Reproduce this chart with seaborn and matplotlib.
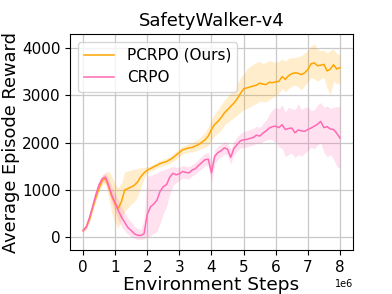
import numpy as np
import pandas as pd
import matplotlib
matplotlib.use("Agg")
import matplotlib.pyplot as plt
import seaborn as sns

# Environment steps (in millions)
steps_m = [round(0.1 * i, 1) for i in range(81)]

pcrpo_mean = [140, 214, 370, 620, 840, 1040, 1200, 1240, 1060, 860,
              700, 610, 760, 1000, 1030, 1060, 1100, 1170, 1280, 1360,
              1420, 1450, 1490, 1520, 1560, 1580, 1600, 1640, 1680, 1740,
              1790, 1850, 1870, 1890, 1900, 1930, 1960, 2010, 2060, 2140,
              2280, 2390, 2450, 2530, 2630, 2700, 2770, 2840, 2930, 3040,
              3140, 3160, 3180, 3200, 3220, 3260, 3240, 3230, 3280, 3270,
              3290, 3300, 3400, 3340, 3420, 3460, 3480, 3470, 3440, 3480,
              3550, 3670, 3690, 3630, 3640, 3660, 3520, 3560, 3650, 3560,
              3590]
pcrpo_low = [100, 170, 320, 560, 770, 960, 1120, 1130, 850, 500,
             300, 190, 400, 560, 620, 700, 760, 860, 1050, 1250,
             1360, 1390, 1430, 1460, 1490, 1510, 1530, 1570, 1600, 1650,
             1700, 1760, 1780, 1800, 1800, 1830, 1850, 1880, 1900, 1950,
             2050, 2150, 2200, 2270, 2370, 2430, 2480, 2530, 2580, 2640,
             2700, 2720, 2760, 2800, 2830, 2880, 2870, 2860, 2920, 2950,
             3000, 3050, 3150, 3080, 3150, 3200, 3220, 3180, 3120, 3200,
             3300, 3380, 3350, 3300, 3350, 3380, 3150, 3020, 3300, 3250,
             3270]
pcrpo_high = [180, 260, 420, 680, 910, 1120, 1300, 1370, 1400, 1280,
              1120, 1050, 1150, 1380, 1400, 1420, 1440, 1450, 1470, 1480,
              1490, 1510, 1550, 1580, 1620, 1650, 1670, 1710, 1760, 1820,
              1870, 1930, 1950, 1980, 2000, 2040, 2080, 2150, 2220, 2330,
              2500, 2620, 2700, 2800, 2900, 2980, 3050, 3130, 3250, 3370,
              3450, 3560, 3620, 3660, 3700, 3720, 3680, 3700, 3740, 3720,
              3700, 3720, 3780, 3720, 3790, 3800, 3800, 3820, 3850, 3900,
              3950, 4050, 4100, 3980, 3950, 3960, 3900, 3950, 3980, 3880,
              3870]

crpo_mean = [140, 214, 410, 650, 900, 1110, 1240, 1270, 1090, 880,
             730, 560, 420, 310, 200, 140, 70, 40, 35, 70,
             480, 640, 700, 780, 970, 1070, 1110, 1270, 1350, 1320,
             1340, 1390, 1370, 1360, 1420, 1450, 1520, 1580, 1640, 1650,
             1360, 1710, 1790, 1830, 1890, 1860, 1690, 1880, 1960, 2040,
             2060, 2070, 2090, 2110, 2160, 2140, 2200, 2250, 2310, 2340,
             2350, 2320, 2380, 2280, 2300, 2310, 2210, 2270, 2250, 2240,
             2280, 2310, 2350, 2390, 2450, 2320, 2340, 2290, 2280, 2200,
             2100]
crpo_low = [100, 160, 340, 570, 820, 1030, 1160, 1170, 960, 720,
            540, 350, 220, 130, 60, 10, -30, -50, -50, -40,
            0, 30, 80, 120, 300, 500, 650, 900, 1100, 1150,
            1200, 1250, 1240, 1230, 1300, 1330, 1400, 1450, 1510, 1520,
            1150, 1560, 1650, 1700, 1760, 1730, 1550, 1740, 1820, 1890,
            1900, 1910, 1930, 1950, 1990, 1980, 2020, 2050, 2080, 2050,
            2000, 1900, 1880, 1700, 1750, 1780, 1680, 1750, 1720, 1780,
            1830, 1900, 1870, 1950, 2000, 1800, 1700, 1750, 1650, 1500,
            1450]
crpo_high = [180, 270, 480, 730, 980, 1190, 1320, 1360, 1230, 1060,
             920, 780, 640, 520, 400, 320, 230, 180, 160, 380,
             1300, 1300, 1330, 1360, 1400, 1420, 1450, 1470, 1500, 1480,
             1480, 1520, 1500, 1490, 1540, 1580, 1650, 1710, 1770, 1790,
             1600, 1850, 1920, 1970, 2020, 2000, 1850, 2030, 2120, 2200,
             2230, 2250, 2280, 2300, 2350, 2320, 2400, 2480, 2600, 2700,
             2750, 2720, 2800, 2650, 2750, 2720, 2700, 2820, 2700, 2750,
             2760, 2680, 2700, 2800, 2850, 2750, 2780, 2720, 2750, 2760,
             2770]

methods = ["PCRPO (Ours)", "CRPO"]
colors = {"PCRPO (Ours)": "#FFA500", "CRPO": "#FF69B4"}

steps = np.array(steps_m) * 1e6
df = pd.concat([
    pd.DataFrame({"steps": steps, "reward": pcrpo_mean, "method": methods[0]}),
    pd.DataFrame({"steps": steps, "reward": crpo_mean, "method": methods[1]}),
])

fig = plt.figure(figsize=(3.92, 2.94), dpi=100)
ax = fig.add_axes([0.179, 0.149, 0.721, 0.735])

sns.lineplot(data=df, x="steps", y="reward", hue="method", hue_order=methods,
             palette=colors, linewidth=1.1, ax=ax)
ax.fill_between(steps, pcrpo_low, pcrpo_high, color=colors[methods[0]],
                alpha=0.2, linewidth=0)
ax.fill_between(steps, crpo_low, crpo_high, color=colors[methods[1]],
                alpha=0.2, linewidth=0)

ax.set_xlim(-0.4e6, 8.4e6)
ax.set_ylim(-277, 4300)
ax.set_xticks(np.arange(0, 9) * 1e6)
ax.set_yticks([0, 1000, 2000, 3000, 4000])
ax.grid(True, color="#c8c8c8", linewidth=0.9)
ax.set_axisbelow(True)
ax.tick_params(labelsize=11)
ax.xaxis.get_offset_text().set_fontsize(7)

ax.set_title("SafetyWalker-v4", fontsize=13)
ax.set_xlabel("Environment Steps", fontsize=13.3, labelpad=1)
ax.set_ylabel("Average Episode Reward", fontsize=12.8)
ax.yaxis.set_label_coords(-0.178, 0.5)

leg = ax.legend(loc="upper left", fontsize=11, title=None)

fig.savefig("out.png", dpi=100)
